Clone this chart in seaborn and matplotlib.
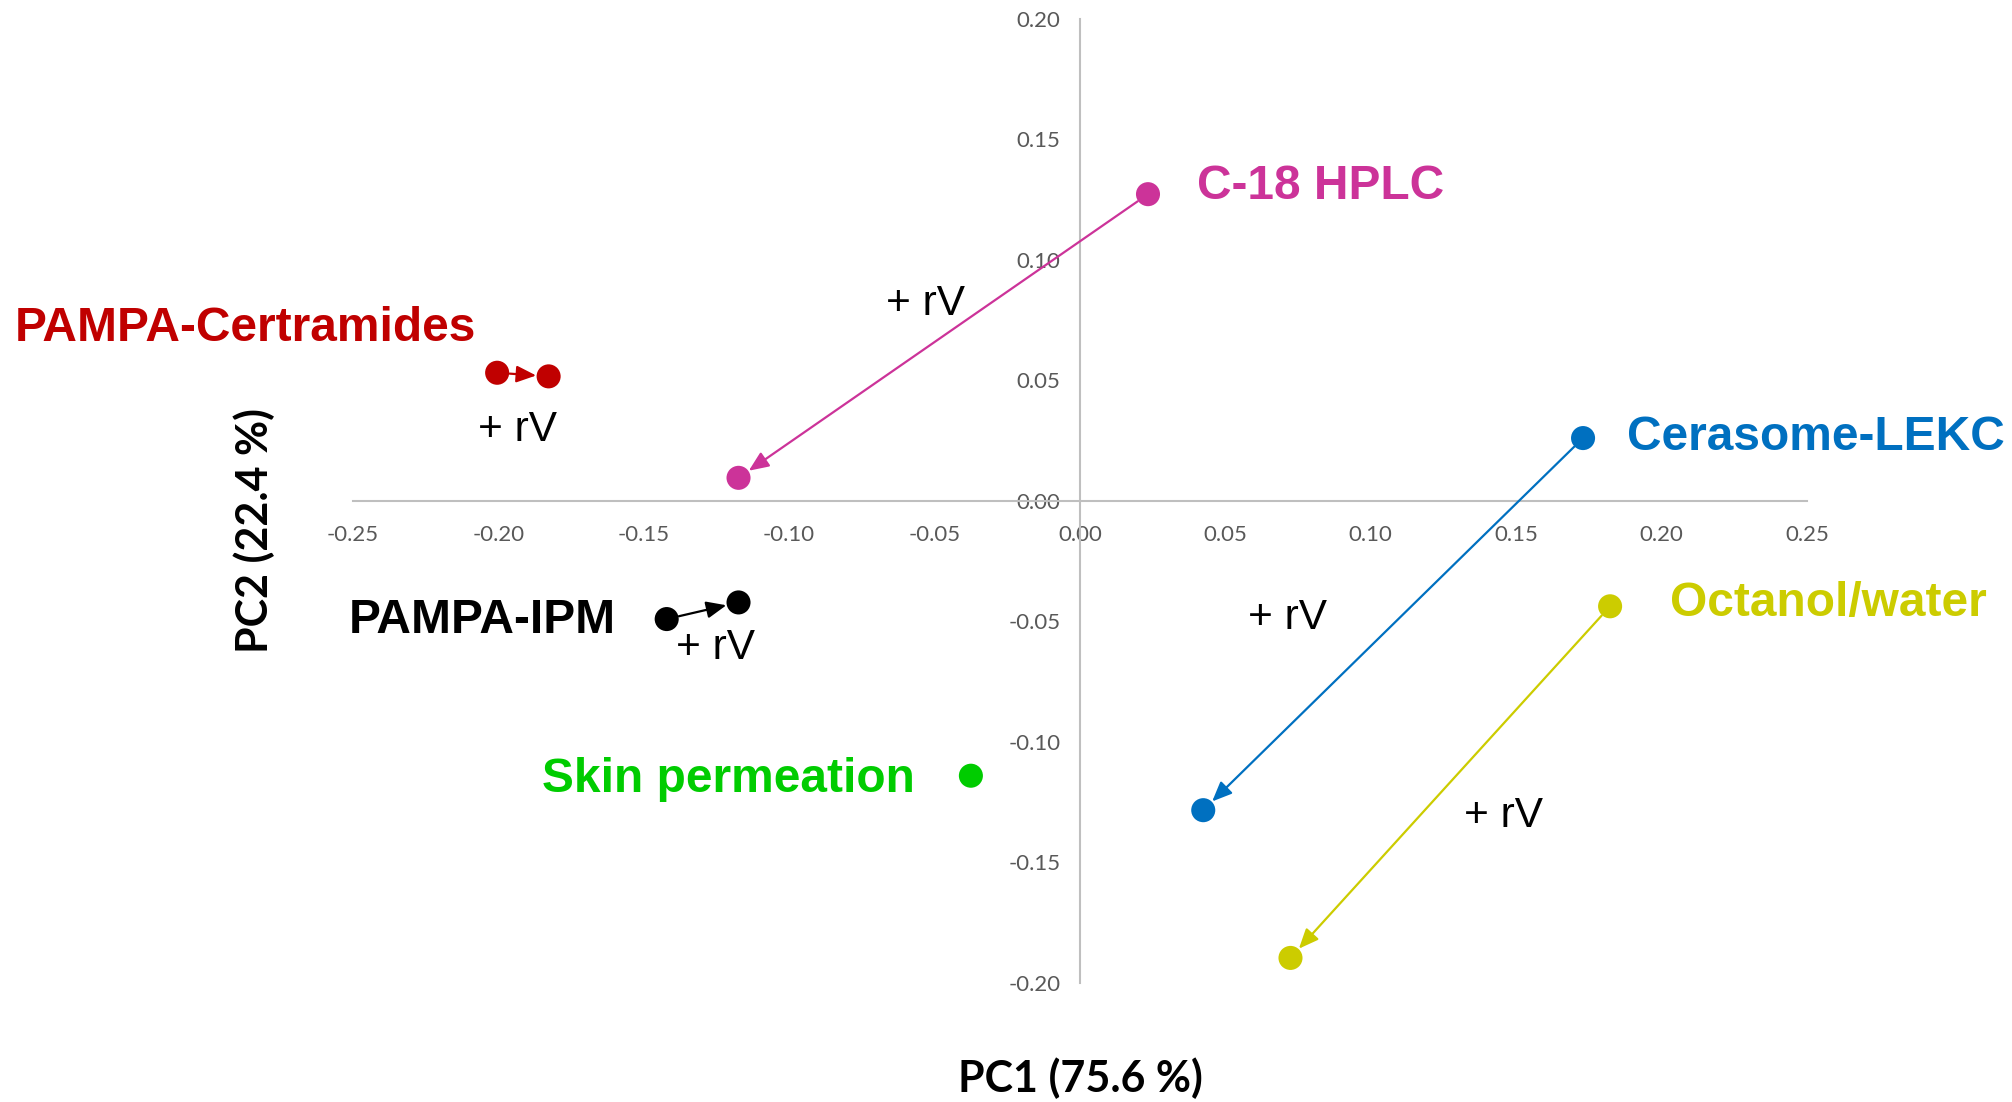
import numpy as np
import pandas as pd
import matplotlib
matplotlib.use("Agg")
import matplotlib.pyplot as plt
import seaborn as sns

# PCA scores: each method without (start) and with (end) the rV descriptor
methods = ["C-18 HPLC", "PAMPA-Certramides", "PAMPA-IPM", "Skin permeation",
           "Cerasome-LEKC", "Octanol/water"]
pc1_start = [0.0234, -0.2004, -0.1421, -0.0375, 0.1730, 0.1823]
pc2_start = [0.1273, 0.0532, -0.0490, -0.1140, 0.0261, -0.0437]
pc1_end = [-0.1174, -0.1827, -0.1174, None, 0.0424, 0.0724]
pc2_end = [0.0096, 0.0517, -0.0421, None, -0.1283, -0.1896]
colors = ["#CC3399", "#C00000", "#000000", "#00CC00", "#0070C0", "#CCCC00"]

# Method name labels (anchor: left edge, vertical centre)
name_x = [0.0402, -0.3663, -0.2515, -0.1849, 0.1880, 0.2030]
name_y = [0.1306, 0.0715, -0.0494, -0.1154, 0.0262, -0.0425]

# "+ rV" annotations (anchor: left edge, vertical centre)
rv_x = [-0.0666, -0.2070, -0.1390, 0.0578, 0.1320]
rv_y = [0.0818, 0.0296, -0.0609, -0.0487, -0.1307]

x_ticks = [-0.25, -0.20, -0.15, -0.10, -0.05, 0.00, 0.05, 0.10, 0.15, 0.20, 0.25]
y_ticks = [-0.20, -0.15, -0.10, -0.05, 0.00, 0.05, 0.10, 0.15, 0.20]

rows = []
for i, m in enumerate(methods):
    rows.append({"PC1": pc1_start[i], "PC2": pc2_start[i], "method": m})
    if pc1_end[i] is not None:
        rows.append({"PC1": pc1_end[i], "PC2": pc2_end[i], "method": m})
df = pd.DataFrame(rows)

sns.set_theme(style="white")
plt.rcParams["font.family"] = ["Liberation Sans", "DejaVu Sans"]
plt.rcParams["axes.unicode_minus"] = False

fig = plt.figure(figsize=(20.12, 11.02), dpi=100)
ax = fig.add_axes([0.1754, 0.108, 0.7227, 0.8748])

# Arrows from the start score to the score with rV
for i in range(len(methods)):
    if pc1_end[i] is None:
        continue
    ax.annotate("", xy=(pc1_end[i], pc2_end[i]), xytext=(pc1_start[i], pc2_start[i]),
                arrowprops=dict(arrowstyle="-|>,head_length=0.75,head_width=0.32",
                                color=colors[i], lw=1.6, mutation_scale=16,
                                shrinkA=9, shrinkB=9))

sns.scatterplot(data=df, x="PC1", y="PC2", hue="method", hue_order=methods,
                palette=colors, s=300, linewidth=0, legend=False, ax=ax, zorder=3)

for i, m in enumerate(methods):
    ax.text(name_x[i], name_y[i], m, color=colors[i], fontsize=34.5, fontweight="bold",
            ha="left", va="center", family="Liberation Sans")
for x, y in zip(rv_x, rv_y):
    ax.text(x, y, "+ rV", color="black", fontsize=30.5, ha="left", va="center",
            family="Liberation Sans")

ax.set_xlim(-0.25, 0.25)
ax.set_ylim(-0.20, 0.20)
ax.set_xticks(x_ticks)
ax.set_yticks(y_ticks)
ax.set_xticklabels([f"{v:.2f}" for v in x_ticks])
ax.set_yticklabels([f"{v:.2f}" for v in y_ticks])

for side in ["top", "right"]:
    ax.spines[side].set_visible(False)
for side in ["left", "bottom"]:
    ax.spines[side].set_position("zero")
    ax.spines[side].set_color("#BFBFBF")
    ax.spines[side].set_linewidth(1.5)

ax.tick_params(axis="both", length=0, labelsize=16, labelcolor="#595959")
ax.tick_params(axis="x", pad=17)
ax.tick_params(axis="y", pad=14)
for lab in ax.get_xticklabels() + ax.get_yticklabels():
    lab.set_family("Lato")

ax.set_xlabel("")
ax.set_ylabel("")
fig.text(0.5368, 0.022, "PC1 (75.6 %)", fontsize=31, fontweight="bold", color="black",
         ha="center", va="center", family="Lato")
fig.text(0.1262, 0.519, "PC2 (22.4 %)", fontsize=31, fontweight="bold", color="black",
         ha="center", va="center", rotation=90, family="Lato")

fig.savefig("out.png", dpi=100)
